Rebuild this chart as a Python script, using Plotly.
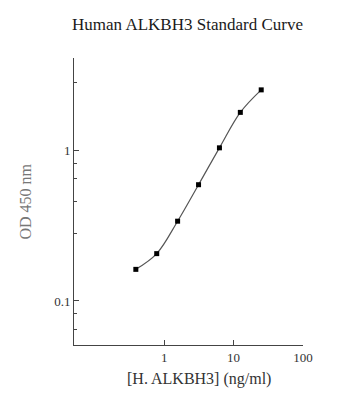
import plotly.graph_objects as go

# Data
conc = [0.39, 0.78, 1.56, 3.125, 6.25, 12.5, 25]          # ng/ml
od450 = [0.162, 0.206, 0.338, 0.59, 1.036, 1.78, 2.51]     # OD 450 nm

x_tickvals = [1, 10, 100]
x_ticktext = ["1", "10", "100"]
y_tickvals = [0.1, 1]
y_ticktext = ["0.1", "1"]
y_minor = [0.028, 0.046, 0.065, 0.082, 0.28, 0.46, 0.65, 0.82, 2.8, 4.6]

W, H = 343, 400
L, R, T, B = 74, 40, 58, 55

fig = go.Figure()
fig.add_trace(go.Scatter(
    x=conc, y=od450, mode="lines+markers",
    line=dict(color="#555555", width=1.2, shape="spline", smoothing=1.0),
    marker=dict(symbol="square", size=5, color="#000000"),
    showlegend=False, hoverinfo="skip",
))

serif = "Liberation Serif, Times New Roman, serif"

fig.update_layout(
    width=W, height=H,
    margin=dict(l=L, r=R, t=T, b=B),
    paper_bgcolor="white", plot_bgcolor="white",
    font=dict(family=serif, color="#222222"),
    title=dict(text="Human ALKBH3 Standard Curve", xref="container", yref="container",
               x=187.5 / W, y=1 - 24 / H, xanchor="center", yanchor="middle",
               font=dict(family=serif, size=17, color="#1a1a1a")),
    xaxis=dict(type="log", range=[-1.3, 2], showgrid=False, zeroline=False,
               showline=True, linecolor="#444444", linewidth=1,
               ticks="inside", ticklen=5, tickcolor="#444444",
               tickvals=x_tickvals, ticktext=x_ticktext,
               tickfont=dict(size=13, color="#333333")),
    yaxis=dict(type="log", range=[-1.292, 0.611], showgrid=False, zeroline=False,
               showline=True, linecolor="#444444", linewidth=1,
               ticks="inside", ticklen=5, tickcolor="#444444",
               tickvals=y_tickvals, ticktext=y_ticktext,
               tickfont=dict(size=13, color="#333333"),
               minor=dict(tickvals=y_minor, ticks="inside", ticklen=3, tickcolor="#444444")),
    annotations=[
        dict(text="[H. ALKBH3] (ng/ml)", xref="paper", yref="paper",
             x=(198.7 - L) / (W - L - R), y=-(379 - (H - B)) / (H - T - B),
             xanchor="center", yanchor="middle", showarrow=False,
             font=dict(family=serif, size=16, color="#333333")),
        dict(text="OD 450 nm", xref="paper", yref="paper", textangle=-90,
             x=-(L - 25) / (W - L - R), y=1 - (201.5 - T) / (H - T - B),
             xanchor="center", yanchor="middle", showarrow=False,
             font=dict(family=serif, size=16, color="#777777")),
    ],
)

fig.write_html("out.html")
